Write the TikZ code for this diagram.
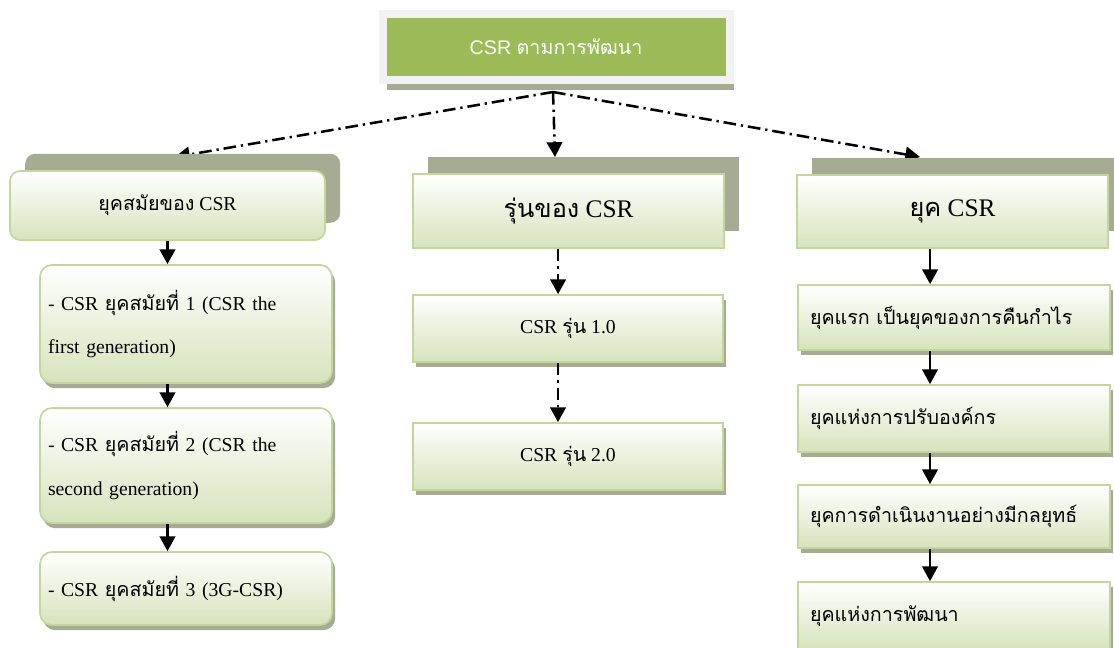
\documentclass[tikz,border=0pt]{standalone}
\usepackage{fontspec}
\setmainfont{Liberation Serif}
\setsansfont{Liberation Sans}
\newfontfamily\thai[Script=Thai]{Loma}
\usepackage{tikz}
\usetikzlibrary{arrows.meta, shadows}

\definecolor{titlegreen}{RGB}{155,187,89}
\definecolor{framegray}{RGB}{242,242,242}
\definecolor{shadowolive}{RGB}{165,172,147}
\definecolor{edgegreen}{RGB}{195,214,155}
\definecolor{palegreen}{RGB}{214,227,188}

\begin{document}
\begin{tikzpicture}[
  titlebox/.style={fill=titlegreen, draw=framegray, line width=0.2cm,
    minimum width=8.675cm, minimum height=1.65cm, text=white,
    font=\fontsize{14}{17}\selectfont,
    general shadow={fill=shadowolive, shadow xshift=0.1cm, shadow yshift=-0.25cm}},
  headbox/.style={draw=edgegreen, line width=1.2pt, top color=white, bottom color=palegreen,
    general shadow={fill=shadowolive, shadow xshift=0.38cm, shadow yshift=0.43cm}},
  itembox/.style={draw=edgegreen, line width=1.2pt, top color=white, bottom color=palegreen,
    font=\fontsize{14}{31}\selectfont,
    general shadow={fill=shadowolive, shadow xshift=0.08cm, shadow yshift=-0.13cm}},
  flowarrow/.style={line width=1.8pt, -{Triangle[length=10.5pt,width=11pt]}},
  dotarrow/.style={flowarrow, dash pattern=on 9pt off 3.5pt on 1.6pt off 3.5pt}
]
  \useasboundingbox (0,0) rectangle (27.85,-16.2);

  % Title
  \node[titlebox] (title) at (13.9,-1.175) {\sffamily CSR {\thai ตามการพัฒนา}};
  \coordinate (hub)  at (13.825,-2.3);
  \coordinate (ltip) at (4.375,-3.925);
  \coordinate (mtip) at (13.875,-3.925);
  \coordinate (rtip) at (23.0,-3.925);
  \draw[dotarrow] (hub) -- (ltip);
  \draw[dotarrow] (hub) -- (mtip);
  \draw[dotarrow] (hub) -- (rtip);

  % Headers
  \node[headbox, rounded corners=0.25cm, minimum width=7.875cm, minimum height=1.725cm,
        font=\fontsize{14}{17}\selectfont] (era) at (4.1875,-5.1375) {{\thai ยุคสมัยของ} CSR};
  \node[headbox, minimum width=7.775cm, minimum height=1.85cm,
        font=\fontsize{18}{22}\selectfont] (gen) at (14.2125,-5.275) {{\thai รุ่นของ} CSR};
  \node[headbox, minimum width=7.775cm, minimum height=1.825cm,
        font=\fontsize{18}{22}\selectfont] (age) at (23.8125,-5.2875) {{\thai ยุค} CSR};

  % Left column
  \node[itembox, rounded corners=0.3cm, minimum width=7.3cm, minimum height=2.95cm,
        text width=6.9cm, inner xsep=0.2cm, align=left] (era1) at (4.65,-8.1)
        {- CSR {\thai ยุคสมัยที่} 1 (CSR the\\first generation)};
  \node[itembox, rounded corners=0.3cm, minimum width=7.3cm, minimum height=2.875cm,
        text width=6.9cm, inner xsep=0.2cm, align=left] (era2) at (4.65,-11.6375)
        {- CSR {\thai ยุคสมัยที่} 2 (CSR the\\second generation)};
  \node[itembox, rounded corners=0.3cm, minimum width=7.3cm, minimum height=1.825cm,
        text width=6.9cm, inner xsep=0.2cm, align=left] (era3) at (4.65,-14.7125)
        {- CSR {\thai ยุคสมัยที่} 3 (3G-CSR)};
  \draw[flowarrow] (era.south) -- (era.south |- era1.north);
  \draw[flowarrow] (era.south |- era1.south) -- (era.south |- era2.north);
  \draw[flowarrow] (era.south |- era2.south) -- (era.south |- era3.north);

  % Middle column
  \node[itembox, minimum width=7.75cm, minimum height=1.675cm] (gen1) at (14.2,-8.2125)
        {CSR {\thai รุ่น} 1.0};
  \node[itembox, minimum width=7.75cm, minimum height=1.675cm] (gen2) at (14.2,-11.4125)
        {CSR {\thai รุ่น} 2.0};
  \draw[dotarrow] ([xshift=-0.26cm]gen.south) -- ([xshift=-0.26cm]gen.south |- gen1.north);
  \draw[dotarrow] ([xshift=-0.25cm]gen1.south) -- ([xshift=-0.25cm]gen1.south |- gen2.north);

  % Right column
  \node[itembox, minimum width=7.8cm, minimum height=1.625cm, text width=7.2cm,
        inner xsep=0.3cm, align=left] (age1) at (23.85,-7.9375) {\thai ยุคแรก เป็นยุคของการคืนกำไร};
  \node[itembox, minimum width=7.8cm, minimum height=1.675cm, text width=7.2cm,
        inner xsep=0.3cm, align=left] (age2) at (23.85,-10.4625) {\thai ยุคแห่งการปรับองค์กร};
  \node[itembox, minimum width=7.8cm, minimum height=1.575cm, text width=7.2cm,
        inner xsep=0.3cm, align=left] (age3) at (23.85,-12.9125) {\thai ยุคการดำเนินงานอย่างมีกลยุทธ์};
  \node[itembox, minimum width=7.8cm, minimum height=1.7cm, text width=7.2cm,
        inner xsep=0.3cm, align=left] (age4) at (23.85,-15.4) {\thai ยุคแห่งการพัฒนา};
  \draw[flowarrow] ([xshift=-0.56cm]age.south) -- ([xshift=-0.56cm]age.south |- age1.north);
  \draw[flowarrow] ([xshift=-0.6cm]age1.south) -- ([xshift=-0.6cm]age1.south |- age2.north);
  \draw[flowarrow] ([xshift=-0.6cm]age2.south) -- ([xshift=-0.6cm]age2.south |- age3.north);
  \draw[flowarrow] ([xshift=-0.6cm]age3.south) -- ([xshift=-0.6cm]age3.south |- age4.north);
\end{tikzpicture}
\end{document}
